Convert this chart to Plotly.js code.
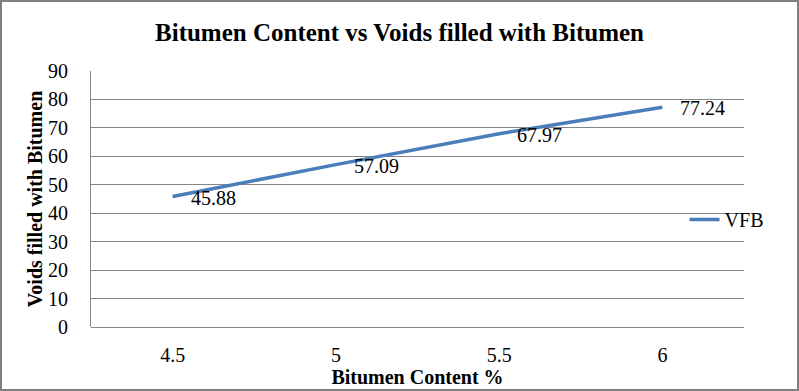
<!DOCTYPE html>
<html>
<head>
<meta charset="utf-8">
<script src="https://cdn.plot.ly/plotly-3.0.1.min.js"></script>
<style>
html,body{margin:0;padding:0;background:#fff;}
#wrap{position:relative;width:799px;height:391px;}
#chart{width:799px;height:391px;}
#frame{position:absolute;left:0;top:0;width:799px;height:391px;box-sizing:border-box;border:2px solid #808080;pointer-events:none;}
</style>
</head>
<body>
<div id="wrap"><div id="chart"></div><div id="frame"></div></div>
<script>
var categories = ["4.5", "5", "5.5", "6"];
var vfb = [45.88, 57.09, 67.97, 77.24];
var labels = ["45.88", "57.09", "67.97", "77.24"];
var yTicks = [0, 10, 20, 30, 40, 50, 60, 70, 80, 90];

var serif = "Liberation Serif";

var trace = {
  x: categories, y: vfb, type: "scatter", mode: "lines", name: "VFB",
  line: {color: "#4a7ebb", width: 3.5}
};

var annotations = categories.map(function(c, i){
  return {x: i, y: vfb[i], xref: "x", yref: "y", text: labels[i], showarrow: false,
    xanchor: "left", yanchor: "middle", xshift: 16, yshift: -1,
    font: {family: serif, size: 20, color: "#000"}};
});

var layout = {
  width: 799, height: 391,
  margin: {l: 91, r: 55, t: 71, b: 64},
  paper_bgcolor: "#fff", plot_bgcolor: "#fff",
  showlegend: true,
  font: {family: serif, size: 20, color: "#000"},
  title: {text: "<b>Bitumen Content vs Voids filled with Bitumen</b>", x: 0.5, xanchor: "center", y: 0.918, yanchor: "middle",
    font: {family: serif, size: 25, color: "#000"}},
  xaxis: {type: "category", range: [-0.5, 3.5], showgrid: false, zeroline: false, showline: false,
    ticks: "", ticklabelstandoff: 14,
    tickfont: {family: serif, size: 20, color: "#000"},
    title: {text: "<b>Bitumen Content %</b>", standoff: 3, font: {family: serif, size: 20, color: "#000"}}},
  yaxis: {range: [0, 90], tickvals: yTicks, showgrid: true, gridcolor: "#868686", gridwidth: 1,
    zeroline: true, zerolinecolor: "#868686", zerolinewidth: 1,
    showline: true, linecolor: "#868686", linewidth: 1, ticks: "", ticklabelstandoff: 18,
    tickfont: {family: serif, size: 20, color: "#000"},
    title: {text: "<b>Voids filled with Bitumen</b>", standoff: 0, font: {family: serif, size: 20, color: "#000"}}},
  legend: {x: 0.909, xanchor: "left", y: 0.42, yanchor: "middle", bgcolor: "rgba(0,0,0,0)",
    font: {family: serif, size: 20, color: "#000"}},
  annotations: annotations
};

Plotly.newPlot("chart", [trace], layout, {displayModeBar: false, staticPlot: true});
</script>
</body>
</html>
